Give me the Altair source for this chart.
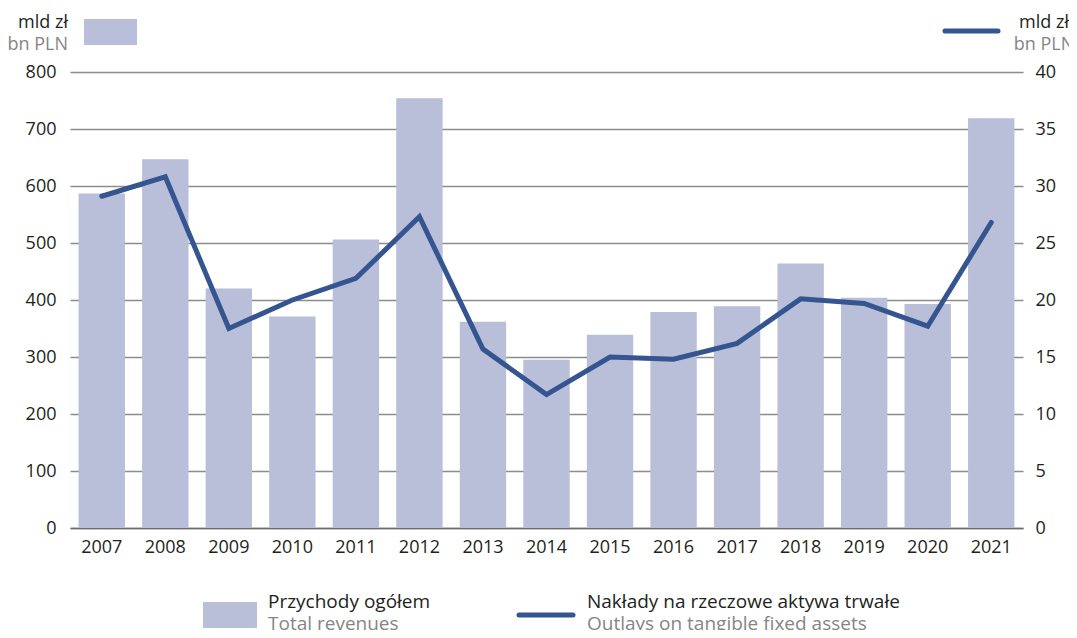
import altair as alt
import pandas as pd

years = [str(y) for y in range(2007, 2022)]
revenues = [587, 647, 420, 371, 506, 754, 362, 295, 339, 379, 389, 464, 404, 393, 719]
outlays = [29.1, 30.8, 17.5, 20.0, 21.9, 27.3, 15.7, 11.7, 15.0, 14.8, 16.2, 20.1, 19.7, 17.7, 26.8]

unit_pl = "mld zł"
unit_en = "bn PLN"
bar_pl = "Przychody ogółem"
bar_en = "Total revenues"
line_pl = "Nakłady na rzeczowe aktywa trwałe"
line_en = "Outlays on tangible fixed assets"

BAR = "#b9bed9"
LINE = "#34558f"
DARK = "#231f20"
GREY = "#858585"
FONT = "Open Sans"
FS = 18
LFS = 19

df = pd.DataFrame({"year": years, "rev": revenues, "out": outlays})
one = pd.DataFrame({"a": [0]})

xenc = alt.X("year:N", title=None, sort=years,
             scale=alt.Scale(paddingInner=0.27, paddingOuter=0.135),
             axis=alt.Axis(labelAngle=0, ticks=False, domainColor="#6d6d6d", domainWidth=1.5,
                           labelPadding=10, labelFontSize=FS, labelColor=DARK, labelFont=FONT))

bars = alt.Chart(df).mark_bar(color=BAR).encode(
    x=xenc,
    y=alt.Y("rev:Q", title=None, scale=alt.Scale(domain=[0, 800]),
            axis=alt.Axis(values=list(range(0, 801, 100)), domain=False, ticks=False,
                          labelPadding=14, gridColor="#8c8c8c", gridWidth=1.5,
                          labelFontSize=FS, labelColor=DARK, labelFont=FONT)),
)

line = alt.Chart(df).mark_line(color=LINE, strokeWidth=5, strokeCap="round", strokeJoin="miter").encode(
    x=alt.X("year:N", sort=years),
    y=alt.Y("out:Q", title=None, scale=alt.Scale(domain=[0, 40]),
            axis=alt.Axis(orient="right", values=list(range(0, 41, 5)), domain=False, ticks=False,
                          grid=False, labelPadding=12,
                          labelFontSize=FS, labelColor=DARK, labelFont=FONT)),
)

def txt(s, x, y, color, align="left", size=LFS):
    return alt.Chart(one).mark_text(text=s, align=align, baseline="alphabetic", fontSize=size,
                                    font=FONT, color=color).encode(x=alt.value(x), y=alt.value(y))

def rect(x, x2, y, y2):
    return alt.Chart(one).mark_rect(color=BAR).encode(
        x=alt.value(x), x2=alt.value(x2), y=alt.value(y), y2=alt.value(y2))

def seg(x, x2, y):
    return alt.Chart(one).mark_rule(color=LINE, strokeWidth=5, strokeCap="round").encode(
        x=alt.value(x), x2=alt.value(x2), y=alt.value(y))

deco = [
    txt(unit_pl, -2, -44, DARK, "right", 18),
    txt(unit_en, -2, -22, GREY, "right", 18),
    rect(14, 67, -53, -27),
    seg(875, 928, -41),
    txt(unit_pl, 974, -44, DARK, "center", 18),
    txt(unit_en, 974, -22, GREY, "center", 18),
    rect(133, 187, 530, 556),
    txt(bar_pl, 198, 536, DARK),
    txt(bar_en, 198, 558, GREY),
    seg(449, 503, 543),
    txt(line_pl, 517, 536, DARK),
    txt(line_en, 517, 558, GREY),
]

base = alt.layer(bars, line).resolve_scale(y="independent")
chart = alt.layer(base, *deco).properties(
    width=953, height=456,
    autosize=alt.AutoSizeParams(type="none"),
    padding={"left": 62, "top": 64, "right": 46, "bottom": 102},
).configure_view(stroke=None)

chart.save("out.html", embed_options={"renderer": "svg", "actions": False})
